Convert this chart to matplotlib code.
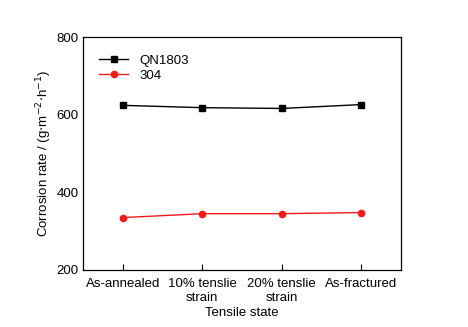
import matplotlib
matplotlib.use("Agg")
import matplotlib.pyplot as plt

plt.rcParams['font.family'] = ['Liberation Sans', 'DejaVu Sans']

states = ["As-annealed", "10% tenslie\nstrain", "20% tenslie\nstrain", "As-fractured"]
qn1803 = [624, 618, 616, 626]
s304 = [335, 345, 345, 348]

fig = plt.figure(figsize=(4.68, 3.27), dpi=100)
ax = fig.add_axes([83 / 468, 1 - 270 / 327, 318 / 468, 233 / 327])

x = list(range(len(states)))
ax.plot(x, qn1803, color='black', marker='s', markersize=4.5, linewidth=1, label='QN1803')
ax.plot(x, s304, color='#ee1c1c', marker='o', markersize=4.5, linewidth=1, label='304')

ax.set_xlim(-0.5, 3.5)
ax.set_ylim(200, 800)
ax.set_yticks([200, 400, 600, 800])
ax.set_xticks(x)
ax.set_xticklabels(states, fontsize=9.5)
ax.tick_params(axis='x', direction='in', length=4, width=0.8, pad=6)
ax.tick_params(axis='y', length=0, labelsize=9.5, pad=3)
for s in ax.spines.values():
    s.set_linewidth(0.9)

ax.set_xlabel("Tensile state", fontsize=9.5, labelpad=2)
ax.set_ylabel("Corrosion rate / (g$\\cdot$m$^{-2}$$\\cdot$h$^{-1}$)", fontsize=9.5, labelpad=2)
ax.legend(loc='upper left', frameon=False, fontsize=9.5, handlelength=2.2,
          borderaxespad=0.6, labelspacing=0.2, bbox_to_anchor=(0.01, 0.98))

fig.savefig("out.png", dpi=100)
